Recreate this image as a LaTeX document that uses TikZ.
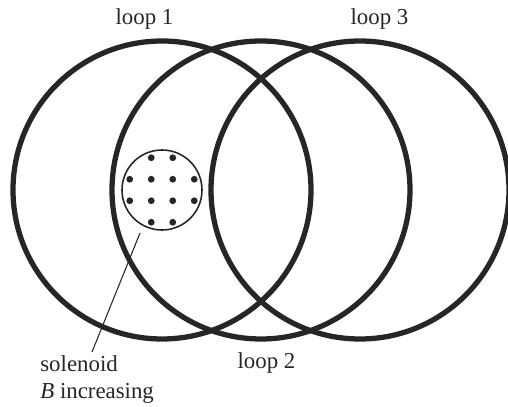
\documentclass[tikz,border=0pt]{standalone}
\usepackage{fontspec}
\setmainfont{Liberation Serif}
\usetikzlibrary{positioning, calc}

\begin{document}
\begin{tikzpicture}[
  font=\fontsize{13}{16}\selectfont,
  loop/.style ={draw=black!85, circle, inner sep=0pt, minimum size=5.96cm,
                line width=3pt},
  sol/.style  ={draw=black!85, circle, inner sep=0pt, minimum size=1.60cm,
                line width=0.9pt},
  fdot/.style ={fill=black!85},
  lbl/.style  ={inner sep=0pt, text=black!85},
  lead/.style ={draw=black!85, line width=0.6pt},
]
\useasboundingbox (0,0) rectangle (10.16,8.14);

% =========================== LOOPS ==================================
\node[loop] (L1) at (3.24, 4.34) {};
\node[loop] (L2) at (5.22, 4.34) {};
\node[loop] (L3) at (7.20, 4.34) {};

% =========================== SOLENOID ===============================
\node[sol] (S) at (3.24, 4.34) {};
% field pointing out of the page
\foreach \i in {-1.5,-0.5,0.5,1.5}
  \foreach \j in {-0.5,0.5}
    \fill[fdot] ($(S.center)+(0.43*\i,0.43*\j)$) circle (0.068);
\foreach \i in {-0.5,0.5}
  \foreach \j in {-1.5,1.5}
    \fill[fdot] ($(S.center)+(0.43*\i,0.43*\j)$) circle (0.068);

% =========================== LABELS =================================
\node[lbl, anchor=base] (T1) at (2.89, 7.64) {loop 1};
\node[lbl, anchor=base] (T2) at (5.33, 0.78) {loop 2};
\node[lbl, anchor=base] (T3) at (7.59, 7.64) {loop 3};
\node[lbl, anchor=base west] (Tsol) at (0.80, 0.70) {solenoid};
\node[lbl, anchor=base west] (Tinc) at (0.80, 0.18) {\textit{B} increasing};

% leader from the solenoid down to its label
\coordinate (E) at (1.84, 1.10);
\draw[lead, shorten <=0.15cm] (S.242) -- (E);

\end{tikzpicture}
\end{document}
